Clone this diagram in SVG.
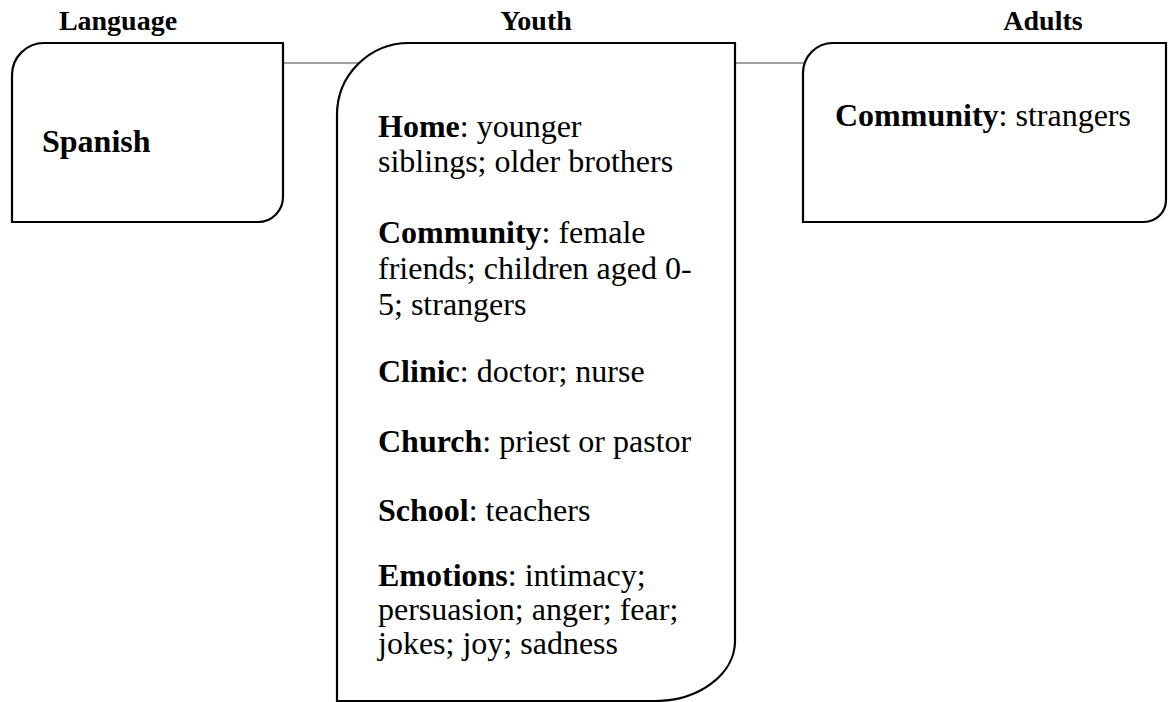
<svg xmlns="http://www.w3.org/2000/svg" width="1168" height="702" viewBox="0 0 1168 702">
<style>
text{font-family:"Liberation Serif","Times New Roman",serif;fill:#000}
.h{font-size:28px;font-weight:bold;text-anchor:middle}
.t{font-size:32px}
.b{font-weight:bold}
.box{fill:#fff;stroke:#000;stroke-width:2.2}
.conn{stroke:#444;stroke-width:1.2;fill:none}
</style>
<rect width="1168" height="702" fill="#fff"/>
<g id="connectors">
<line class="conn" x1="283" y1="63" x2="360" y2="63"/>
<line class="conn" x1="735" y1="63" x2="805" y2="63"/>
</g>
<g id="header-language"><text class="h" x="118" y="30">Language</text></g>
<g id="header-youth"><text class="h" x="536" y="30">Youth</text></g>
<g id="header-adults"><text class="h" x="1043" y="30">Adults</text></g>
<g id="node-spanish">
<path class="box" d="M12,75 A32,32 0 0 1 44,43 H283 V197 A25,25 0 0 1 258,222 H12 Z"/>
<text class="t b" x="42" y="152">Spanish</text>
</g>
<g id="node-youth">
<path class="box" d="M337,703 V115 A72,72 0 0 1 409,43 H735 V641 A80,60 0 0 1 655,701 H337"/>
<text class="t" x="378"><tspan x="378" y="137"><tspan class="b">Home</tspan>: younger</tspan><tspan x="378" y="172">siblings; older brothers</tspan><tspan x="378" y="243"><tspan class="b">Community</tspan>: female</tspan><tspan x="378" y="279">friends; children aged 0-</tspan><tspan x="378" y="315">5; strangers</tspan><tspan x="378" y="382"><tspan class="b">Clinic</tspan>: doctor; nurse</tspan><tspan x="378" y="452"><tspan class="b">Church</tspan>: priest or pastor</tspan><tspan x="378" y="521"><tspan class="b">School</tspan>: teachers</tspan><tspan x="378" y="586"><tspan class="b">Emotions</tspan>: intimacy;</tspan><tspan x="378" y="620">persuasion; anger; fear;</tspan><tspan x="378" y="654">jokes; joy; sadness</tspan></text>
</g>
<g id="node-adults">
<path class="box" d="M803,73 A30,30 0 0 1 833,43 H1166 V200 A22,22 0 0 1 1144,222 H803 Z"/>
<text class="t" x="835" y="126"><tspan class="b">Community</tspan>: strangers</text>
</g>
</svg>
